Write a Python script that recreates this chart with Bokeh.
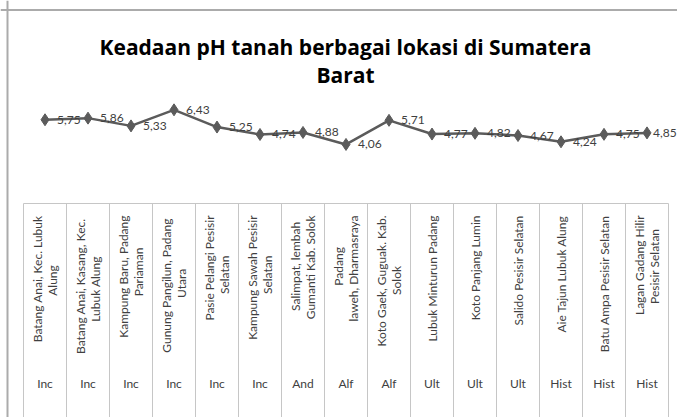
import numpy as np
from bokeh.plotting import figure
from bokeh.models import Range1d, ColumnDataSource, Label, Span
from bokeh.core.properties import value
from bokeh.embed import file_html
from bokeh.resources import INLINE

# ---- data ----
title_line1 = "Keadaan pH tanah berbagai lokasi di Sumatera"
title_line2 = "Barat"

locations = [
    "Batang Anai, Kec. Lubuk\nAlung",
    "Batang Anai,  Kasang, Kec.\nLubuk Alung",
    "Kampung Baru, Padang\nPariaman",
    "Gunung Pangilun,  Padang\nUtara",
    "Pasie Pelangi Pesisir\nSelatan",
    "Kampung Sawah Pesisir\nSelatan",
    "Salimpat, lembah\nGumanti Kab. Solok",
    "Padang\nlaweh, Dharmasraya",
    "Koto Gaek, Guguak. Kab.\nSolok",
    "Lubuk Minturun Padang",
    "Koto Panjang Lumin",
    "Salido Pesisir Selatan",
    "Aie Tajun Lubuk Alung",
    "Batu Ampa Pesisir Selatan",
    "Lagan Gadang Hilir\nPesisir Selatan",
]
soil_types = ["Inc", "Inc", "Inc", "Inc", "Inc", "Inc", "And", "Alf", "Alf",
              "Ult", "Ult", "Ult", "Hist", "Hist", "Hist"]
ph_values = [5.75, 5.86, 5.33, 6.43, 5.25, 4.74, 4.88, 4.06, 5.71,
             4.77, 4.82, 4.67, 4.24, 4.75, 4.85]

# ---- layout ----
W, H = 677, 417
PX_PER_COL = 43.0
X_START = -44.5 / PX_PER_COL
Y_ZERO_PX = 203.2      # pixel row of pH 0 (table top)
PX_PER_UNIT = 14.6
n = len(locations)
idx = np.arange(n)
ph_labels = [f"{v:.2f}".replace(".", ",") for v in ph_values]
label_dx = [12] * n
label_dx[-1] = 6  # last label nudged left to stay inside, like the original

src = ColumnDataSource(dict(x=idx, y=ph_values, lab=ph_labels,
                            soil=soil_types, dx=label_dx))

p = figure(width=W, height=H, output_backend="svg", toolbar_location=None,
           x_range=Range1d(X_START, X_START + W / PX_PER_COL),
           y_range=Range1d(-(H - Y_ZERO_PX) / PX_PER_UNIT,
                           Y_ZERO_PX / PX_PER_UNIT),
           min_border=0, min_border_left=0, min_border_right=0,
           min_border_top=0, min_border_bottom=0)
p.xaxis.visible = False
p.yaxis.visible = False
p.grid.visible = False
p.outline_line_color = None
p.background_fill_color = "white"
p.border_fill_color = "white"

# pixel-like range for the table part (0 at top, H at bottom)
p.extra_y_ranges = {"px": Range1d(start=H, end=0)}

FRAME = "#ababab"
GRID = "#c6c6c6"
TXT = "#404040"

# outer chart frame (left & top edges; right/bottom are cut off)
p.add_layout(Span(location=7, dimension="height", location_units="screen",
                  line_color=FRAME, line_width=2))
p.add_layout(Span(location=H - 9.5, dimension="width", location_units="screen",
                  line_color=FRAME, line_width=2))

# data table grid
edges = np.arange(n + 1) - 0.5
table_top = 203
p.segment(x0=edges, y0=[table_top] * (n + 1), x1=edges, y1=[H] * (n + 1),
          line_color=GRID, line_width=1, y_range_name="px")
p.segment(x0=[edges[0]], y0=[table_top], x1=[edges[-1]], y1=[table_top],
          line_color=GRID, line_width=1, y_range_name="px")

# rotated location labels: the longest line of each label is anchored at the
# top of the cell, the other line is centred on it (Excel-like wrapping)
LABEL_TOP = 215
LINE_GAP = 15
CHAR_W = 5.65
long_x, long_t, long_dx = [], [], []
short_x, short_t, short_dx, short_y = [], [], [], []
for i, loc in enumerate(locations):
    lines = loc.split("\n")
    k = len(lines)
    longest = max(range(k), key=lambda j: len(lines[j]))
    centre = LABEL_TOP + CHAR_W * len(lines[longest]) / 2
    for j, ln in enumerate(lines):
        off = (j - (k - 1) / 2) * LINE_GAP
        if j == longest:
            long_x.append(i); long_t.append(ln); long_dx.append(off)
        else:
            short_x.append(i); short_t.append(ln); short_dx.append(off)
            short_y.append(centre)

common = dict(angle=np.pi / 2, text_font=value("Lato"), text_font_size="12px",
              text_color=TXT, y_range_name="px")
p.text(x="x", y=LABEL_TOP, text="t", x_offset="dx",
       source=ColumnDataSource(dict(x=long_x, t=long_t, dx=long_dx)),
       anchor=value("center_right"), **common)
p.text(x="x", y="y", text="t", x_offset="dx",
       source=ColumnDataSource(dict(x=short_x, t=short_t, dx=short_dx,
                                    y=short_y)),
       anchor=value("center"), **common)

# soil type row
p.text(x="x", y=383, text="soil", source=src, text_align="center",
       text_baseline="middle", text_font=value("Lato"), text_font_size="12px",
       text_color=TXT, y_range_name="px")

# line + markers
LINE = "#5b5b5b"
p.line(x="x", y="y", source=src, line_color=LINE, line_width=2.5)
p.scatter(x="x", y="y", source=src, marker="diamond", size=12,
          fill_color=LINE, line_color=LINE)

# value labels
p.text(x="x", y="y", text="lab", source=src, x_offset="dx",
       text_align="left", text_baseline="middle",
       text_font=value("Lato"), text_font_size="12px", text_color=TXT)

# title
TX = 345
p.add_layout(Label(x=TX, y=H - 46, x_units="screen", y_units="screen",
                   text=title_line1, text_align="center",
                   text_baseline="alphabetic", text_font="Open Sans",
                   text_font_style="bold", text_font_size="21px",
                   text_color="#000000"))
p.add_layout(Label(x=TX, y=H - 74, x_units="screen", y_units="screen",
                   text=title_line2, text_align="center",
                   text_baseline="alphabetic", text_font="Open Sans",
                   text_font_style="bold", text_font_size="21px",
                   text_color="#000000"))

open("out.html", "w").write(file_html(p, INLINE))
